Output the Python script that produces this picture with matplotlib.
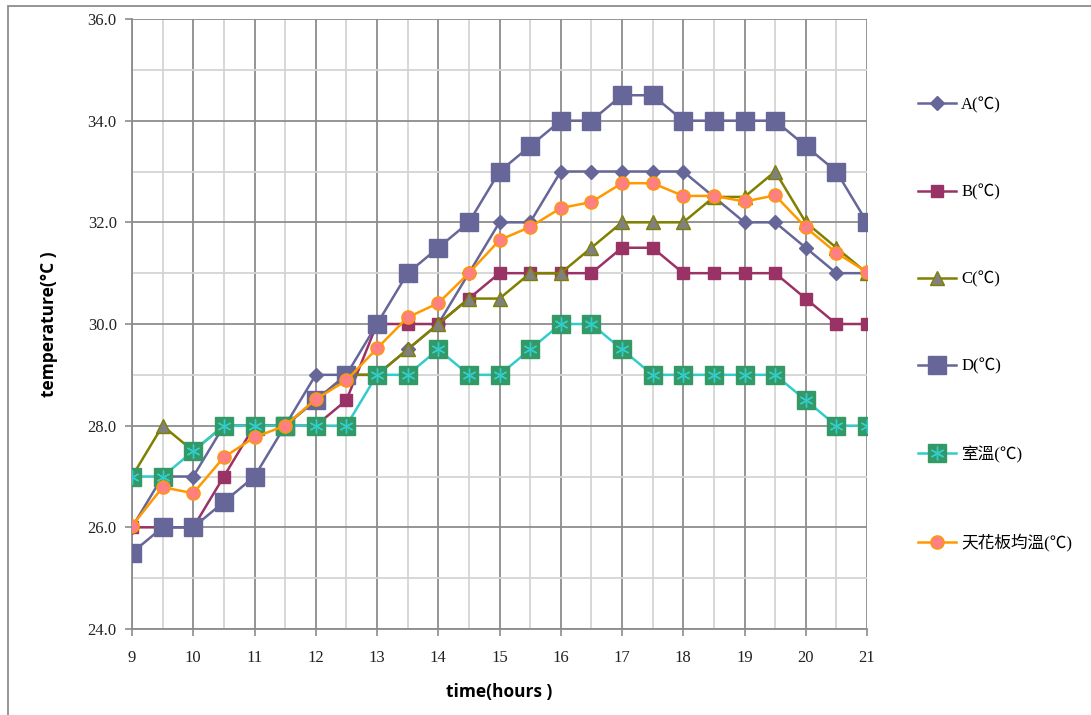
import matplotlib
matplotlib.use("Agg")
import matplotlib.pyplot as plt
from matplotlib.patches import Rectangle
from matplotlib.legend_handler import HandlerTuple
from matplotlib.ticker import MultipleLocator, FormatStrFormatter

# 量測時間 (小時)
hours = [9, 9.5, 10, 10.5, 11, 11.5, 12, 12.5, 13, 13.5, 14, 14.5, 15,
         15.5, 16, 16.5, 17, 17.5, 18, 18.5, 19, 19.5, 20, 20.5, 21]

temp_a = [26.0, 27.0, 27.0, 28.0, 28.0, 28.0, 29.0, 29.0, 29.0, 29.5, 30.0, 31.0, 32.0,
          32.0, 33.0, 33.0, 33.0, 33.0, 33.0, 32.5, 32.0, 32.0, 31.5, 31.0, 31.0]
temp_b = [26.0, 26.0, 26.0, 27.0, 28.0, 28.0, 28.0, 28.5, 30.0, 30.0, 30.0, 30.5, 31.0,
          31.0, 31.0, 31.0, 31.5, 31.5, 31.0, 31.0, 31.0, 31.0, 30.5, 30.0, 30.0]
temp_c = [27.0, 28.0, 27.5, 28.0, 28.0, 28.0, 28.5, 29.0, 29.0, 29.5, 30.0, 30.5, 30.5,
          31.0, 31.0, 31.5, 32.0, 32.0, 32.0, 32.5, 32.5, 33.0, 32.0, 31.5, 31.0]
temp_d = [25.5, 26.0, 26.0, 26.5, 27.0, 28.0, 28.5, 29.0, 30.0, 31.0, 31.5, 32.0, 33.0,
          33.5, 34.0, 34.0, 34.5, 34.5, 34.0, 34.0, 34.0, 34.0, 33.5, 33.0, 32.0]
temp_room = [27.0, 27.0, 27.5, 28.0, 28.0, 28.0, 28.0, 28.0, 29.0, 29.0, 29.5, 29.0, 29.0,
             29.5, 30.0, 30.0, 29.5, 29.0, 29.0, 29.0, 29.0, 29.0, 28.5, 28.0, 28.0]
temp_ceiling = [26.03, 26.79, 26.67, 27.38, 27.77, 28.0, 28.52, 28.89, 29.52, 30.13, 30.41,
                31.0, 31.65, 31.91, 32.28, 32.4, 32.77, 32.77, 32.52, 32.52, 32.41, 32.53,
                31.9, 31.4, 31.02]

labels = ["A(℃)", "B(℃)", "C(℃)", "D(℃)", "室溫(℃)", "天花板均溫(℃)"]

fig = plt.figure(figsize=(10.91, 7.15), dpi=100)
ax = fig.add_axes([132 / 1091, 1 - 629 / 715, 735 / 1091, 610 / 715])

lw = 1.8
la, = ax.plot(hours, temp_a, color="#666699", lw=lw, marker="D", ms=7,
              mfc="#666699", mec="#666699", zorder=3)
lb, = ax.plot(hours, temp_b, color="#993366", lw=lw, marker="s", ms=8.5,
              mfc="#993366", mec="#993366", zorder=3)
lc, = ax.plot(hours, temp_c, color="#808000", lw=lw, marker="^", ms=10,
              mfc="#808080", mec="#808000", mew=1, zorder=3)
ld, = ax.plot(hours, temp_d, color="#666699", lw=lw, marker="s", ms=13.5,
              mfc="#666699", mec="#666699", zorder=3)
lr, = ax.plot(hours, temp_room, color="#33CCCC", lw=lw, marker="s", ms=13,
              mfc="#339966", mec="#339966", zorder=3)
# 室溫標記上的星號
lr_star, = ax.plot(hours, temp_room, ls="none", marker=(6, 2, 0), ms=10,
                   mec="#33CCCC", mew=1.0, zorder=3)
lt, = ax.plot(hours, temp_ceiling, color="#FF9900", lw=lw, marker="o", ms=9.5,
              mfc="#FF8080", mec="#FF9900", mew=1, zorder=3)

ax.set_xlim(9, 21)
ax.set_ylim(24, 36)
ax.xaxis.set_major_locator(MultipleLocator(1))
ax.xaxis.set_minor_locator(MultipleLocator(0.5))
ax.yaxis.set_major_locator(MultipleLocator(2))
ax.yaxis.set_minor_locator(MultipleLocator(1))
ax.yaxis.set_major_formatter(FormatStrFormatter("%.1f"))

ax.grid(which="major", color="#8c8c8c", lw=1.3, zorder=1)
ax.grid(which="minor", color="#d4d4d4", lw=1.3, zorder=0.9)
ax.set_axisbelow(True)
for side in ["top", "right"]:
    ax.spines[side].set_visible(False)
for side in ["left", "bottom"]:
    ax.spines[side].set_color("#8c8c8c")
    ax.spines[side].set_linewidth(1.3)

ax.tick_params(which="major", direction="out", length=5, color="#8c8c8c",
               width=1.2, labelsize=12, labelcolor="#222222")
ax.tick_params(which="minor", length=0)
ax.tick_params(axis="x", pad=10)
ax.tick_params(axis="y", pad=6)
for t in ax.get_xticklabels() + ax.get_yticklabels():
    t.set_family("Liberation Serif")

ax.set_xlabel("time(hours )", family="Open Sans", fontweight="bold",
              fontsize=12.5, labelpad=12)
ax.set_ylabel("temperature(°C )", family="Open Sans", fontweight="bold",
              fontsize=12.5, labelpad=21)

handles = [la, lb, lc, ld, (lr, lr_star), lt]
fig.legend(handles, labels, loc="upper left",
           bbox_to_anchor=(903 / 1091, 1 - 82 / 715),
           handler_map={tuple: HandlerTuple(ndivide=1)},
           frameon=False, handlelength=2.3, handletextpad=0.3,
           labelspacing=4.25,
           prop={"family": ["Liberation Serif", "Noto Sans CJK TC"], "size": 12})

# 圖表外框
fig.add_artist(Rectangle((8 / 1091, -0.05), 1.0, 1.05 - 6 / 715,
                         transform=fig.transFigure, fill=False,
                         edgecolor="#8c8c8c", lw=1.3, clip_on=False))

fig.savefig("out.png", dpi=100)
